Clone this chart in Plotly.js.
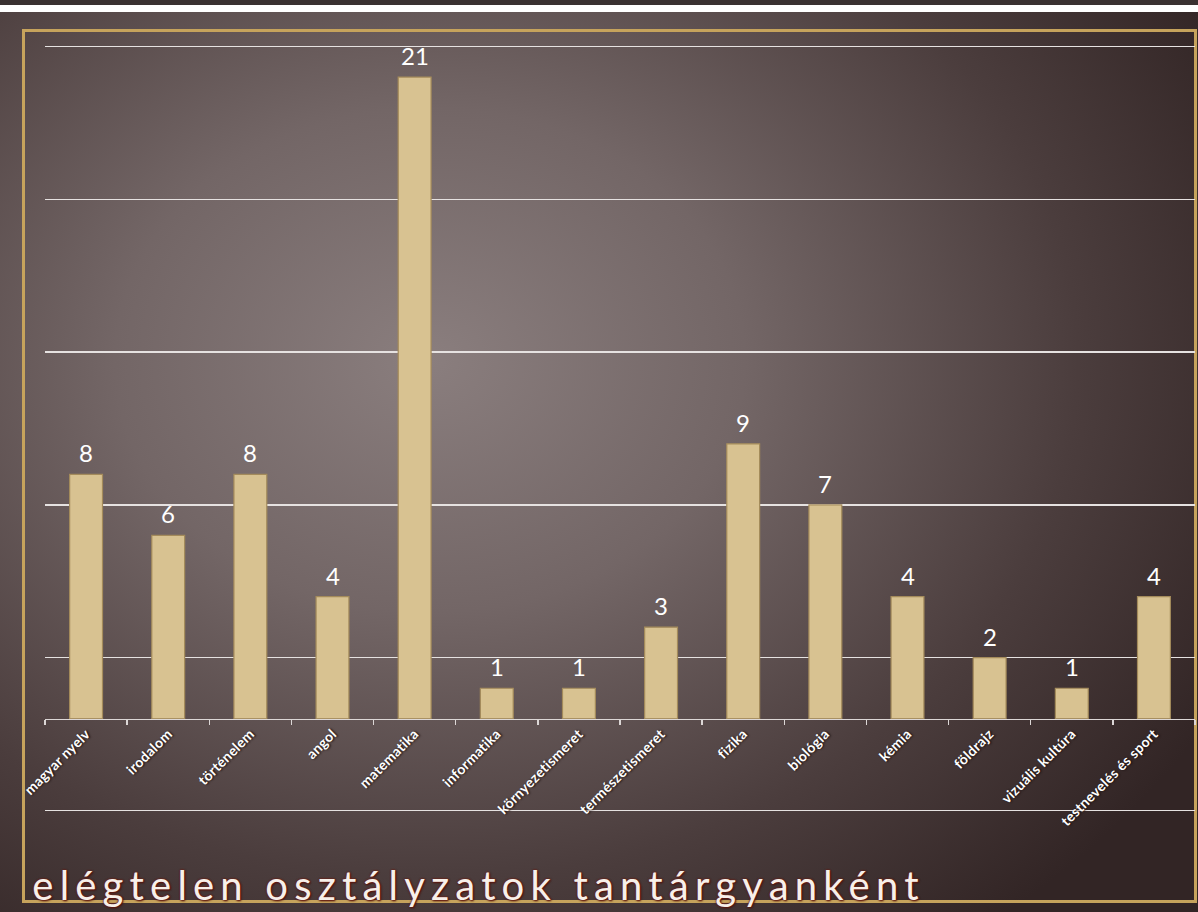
<!DOCTYPE html>
<html>
<head>
<meta charset="utf-8">
<script src="https://cdn.plot.ly/plotly-3.0.1.min.js"></script>
<style>
  html, body { margin: 0; padding: 0; width: 1198px; height: 912px; overflow: hidden; }
  body {
    position: relative;
    background: radial-gradient(ellipse 900px 720px at 430px 360px, #8a7e7e 0%, #736666 35%, #4b3d3d 72%, #322525 100%);
  }
  #topdark { position: absolute; left: 0; top: 0; width: 1198px; height: 5px; background: #3a3131; }
  #topwhite { position: absolute; left: 0; top: 5px; width: 1198px; height: 7px; background: #ffffff; }
  #frame { position: absolute; left: 22px; top: 29px; width: 1169px; height: 868px; border: 3px solid #c6a35c; }
  #chart { position: absolute; left: 0; top: 0; width: 1198px; height: 912px; }
  .gtitle { letter-spacing: 6.2px; }
  .xtick text { letter-spacing: 0.3px; }
</style>
</head>
<body>
<div id="topdark"></div>
<div id="topwhite"></div>
<div id="frame"></div>
<div id="chart"></div>
<script>
const categories = ["magyar nyelv", "irodalom", "történelem", "angol", "matematika", "informatika",
  "környezetismeret", "természetismeret", "fizika", "biológia", "kémia", "földrajz",
  "vizuális kultúra", "testnevelés és sport"];
const failCounts = [8, 6, 8, 4, 21, 1, 1, 3, 9, 7, 4, 2, 1, 4];
const chartTitle = "elégtelen osztályzatok tantárgyanként";

const yRange = [-3.05, 22.05];
const xAxisPos = (0 - yRange[0]) / (yRange[1] - yRange[0]);

const trace = {
  type: "bar",
  x: categories,
  y: failCounts,
  marker: { color: "#d8c291", line: { color: "#a48b5b", width: 1.2 } },
  hoverinfo: "x+y"
};

const valueLabels = categories.map((c, i) => ({
  x: c,
  y: failCounts[i],
  xref: "x",
  yref: "y",
  text: String(failCounts[i]),
  showarrow: false,
  yanchor: "bottom",
  yshift: 5,
  font: { family: "Lato, 'Open Sans', sans-serif", size: 24, color: "#ffffff" }
}));

const layout = {
  width: 1198,
  height: 912,
  paper_bgcolor: "rgba(0,0,0,0)",
  plot_bgcolor: "rgba(0,0,0,0)",
  margin: { l: 45, r: 3, t: 45, b: 100 },
  bargap: 0.6,
  showlegend: false,
  annotations: valueLabels,
  title: {
    text: chartTitle,
    xref: "container", x: 0.027, xanchor: "left",
    yref: "container", y: 0.013, yanchor: "bottom",
    font: { family: "Lato, 'Open Sans', sans-serif", size: 40, color: "#f7f0ea",
            shadow: "0 0 2px #6e1c12, 0 0 2px #6e1c12, 1px 1px 2px #4a0f08" }
  },
  xaxis: {
    type: "category",
    anchor: "free",
    position: xAxisPos,
    showline: true,
    linecolor: "#dcd7d6",
    linewidth: 1.5,
    ticks: "outside",
    tickson: "boundaries",
    ticklen: 5,
    tickwidth: 1.3,
    tickcolor: "#dcd7d6",
    tickangle: -45,
    showgrid: false,
    zeroline: false,
    tickfont: { family: "Lato, 'Open Sans', sans-serif", size: 14, weight: "bold", color: "#ffffff",
                shadow: "1px 1px 2px #1a1010" }
  },
  yaxis: {
    range: yRange,
    tick0: 2,
    dtick: 5,
    showticklabels: false,
    showgrid: true,
    gridcolor: "#e6e2e1",
    gridwidth: 1.6,
    zeroline: false,
    showline: false,
    ticks: ""
  }
};

Plotly.newPlot("chart", [trace], layout, { displayModeBar: false, staticPlot: true });
</script>
</body>
</html>
